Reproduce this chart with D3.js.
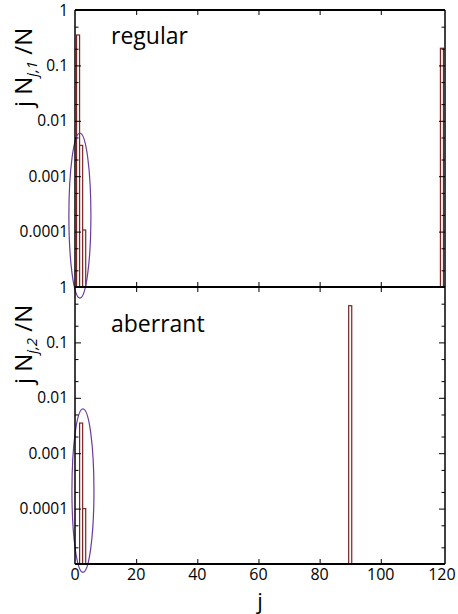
<!DOCTYPE html>
<html><head><meta charset="utf-8">
<script src="https://cdn.jsdelivr.net/npm/d3@7"></script>
<style>html,body{margin:0;padding:0;background:#fff;}svg{display:block;font-family:"Open Sans",sans-serif;}</style>
</head><body>
<svg id="c" width="458" height="614"></svg>
<script>
// ---- data ----
const regularJ = [1, 2, 3, 120];
const regularVals = [0.354, 0.0036, 0.000107, 0.204];
const aberrantJ = [2, 3, 90];
const aberrantVals = [0.0035, 0.0001, 0.46];
const yTickVals = [1, 0.1, 0.01, 0.001, 0.0001];
const yTickLabels = ["1", "0.1", "0.01", "0.001", "0.0001"];
const yMinorVals = [0.5, 0.2, 0.05, 0.02, 0.005, 0.002, 0.0005, 0.0002, 0.00005, 0.00002];
const xTickVals = [0, 20, 40, 60, 80, 100, 120];
const xInnerTicks = [20, 40, 60, 80, 100];

const svg = d3.select("#c");
const L = 75, R = 445;
const x = d3.scaleLinear().domain([0, 121]).range([L, R]);
const yTop = d3.scaleLog().domain([1e-5, 1]).range([287, 10]);
const yBot = d3.scaleLog().domain([1e-5, 1]).range([564, 287]);

svg.append("defs").append("clipPath").attr("id", "clip")
  .append("rect").attr("x", L).attr("y", 0).attr("width", R - L).attr("height", 614);

function panel(y, js, vals, label, labelY, sub, ell) {
  const g = svg.append("g");
  // bars
  g.append("g").attr("clip-path", "url(#clip)").selectAll("rect")
    .data(js.map((j, i) => ({ j, v: vals[i] })))
    .join("rect")
    .attr("x", d => x(d.j - 0.5))
    .attr("width", d => x(d.j + 0.5) - x(d.j - 0.5))
    .attr("y", d => y(d.v))
    .attr("height", d => y(1e-5) - y(d.v))
    .attr("fill", "#fff8f8")
    .attr("stroke", "#7a2626")
    .attr("stroke-width", 1.2);
  // ellipse annotation
  g.append("ellipse")
    .attr("cx", x(ell.j)).attr("cy", (y(ell.top) + y(ell.bottom)) / 2)
    .attr("rx", x(ell.j + ell.w) - x(ell.j)).attr("ry", (y(ell.bottom) - y(ell.top)) / 2)
    .attr("fill", "none").attr("stroke", "#6a3a9e").attr("stroke-width", 1.2);
  // ticks
  const axL = d3.axisLeft(y).tickValues(yTickVals).tickSize(-6).tickFormat("");
  g.append("g").attr("transform", `translate(${L},0)`).call(axL).call(s => s.select(".domain").remove());
  const axLm = d3.axisLeft(y).tickValues(yMinorVals).tickSize(-3.5).tickFormat("");
  g.append("g").attr("transform", `translate(${L},0)`).call(axLm).call(s => s.select(".domain").remove());
  const axR = d3.axisRight(y).tickValues(yTickVals).tickSize(-6).tickFormat("");
  g.append("g").attr("transform", `translate(${R},0)`).call(axR).call(s => s.select(".domain").remove());
  const axRm = d3.axisRight(y).tickValues(yMinorVals).tickSize(-3.5).tickFormat("");
  g.append("g").attr("transform", `translate(${R},0)`).call(axRm).call(s => s.select(".domain").remove());
  const axT = d3.axisTop(x).tickValues(xInnerTicks).tickSize(-5).tickFormat("");
  g.append("g").attr("transform", `translate(0,${y(1)})`).call(axT).call(s => s.select(".domain").remove());
  const axB = d3.axisBottom(x).tickValues(xInnerTicks).tickSize(-5).tickFormat("");
  g.append("g").attr("transform", `translate(0,${y(1e-5)})`).call(axB).call(s => s.select(".domain").remove());
  g.selectAll(".tick line").attr("stroke", "#000").attr("stroke-width", 1);
  // tick labels
  g.selectAll("text.yl").data(yTickVals).join("text").attr("class", "yl")
    .attr("x", 68).attr("y", d => y(d) + 5.5)
    .attr("text-anchor", "end").attr("font-size", 15.5).attr("fill", "#000")
    .text((d, i) => yTickLabels[i]);
  // frame
  g.append("line").attr("x1", L).attr("x2", L).attr("y1", y(1)).attr("y2", y(1e-5)).attr("stroke", "#000").attr("stroke-width", 1.5);
  g.append("line").attr("x1", R).attr("x2", R).attr("y1", y(1)).attr("y2", y(1e-5)).attr("stroke", "#000").attr("stroke-width", 1.5);
  g.append("line").attr("x1", L).attr("x2", R).attr("y1", y(1)).attr("y2", y(1)).attr("stroke", "#000").attr("stroke-width", 2);
  g.append("line").attr("x1", L).attr("x2", R).attr("y1", y(1e-5)).attr("y2", y(1e-5)).attr("stroke", "#000").attr("stroke-width", 2);
  // panel label
  g.append("text").attr("x", 111).attr("y", labelY).attr("font-size", 23).attr("fill", "#000").text(label);
  // y title
  const t = g.append("text").attr("transform", `translate(32,${(y(1) + y(0.01)) / 2 + 2}) rotate(-90)`)
    .attr("text-anchor", "middle").attr("font-size", 24).attr("fill", "#000");
  t.append("tspan").text("j N");
  t.append("tspan").attr("font-size", 15).attr("font-style", "italic").attr("dy", 5).text("j," + sub);
  t.append("tspan").attr("dy", -5).text(" /N");
}

panel(yTop, regularJ, regularVals, "regular", 44, "1", { j: 1.6, w: 3.6, top: 0.006, bottom: 10 ** -5.2 });
panel(yBot, aberrantJ, aberrantVals, "aberrant", 332, "2", { j: 2.6, w: 3.6, top: 0.0063, bottom: 10 ** -5.15 });

// x tick labels
svg.selectAll("text.xl").data(xTickVals).join("text").attr("class", "xl")
  .attr("x", d => x(d)).attr("y", 580).attr("text-anchor", "middle")
  .attr("font-size", 16).attr("fill", "#000").text(d => d);
svg.append("text").attr("x", (L + R) / 2).attr("y", 609).attr("text-anchor", "middle")
  .attr("font-size", 22).attr("fill", "#000").text("j");
</script>
</body></html>
